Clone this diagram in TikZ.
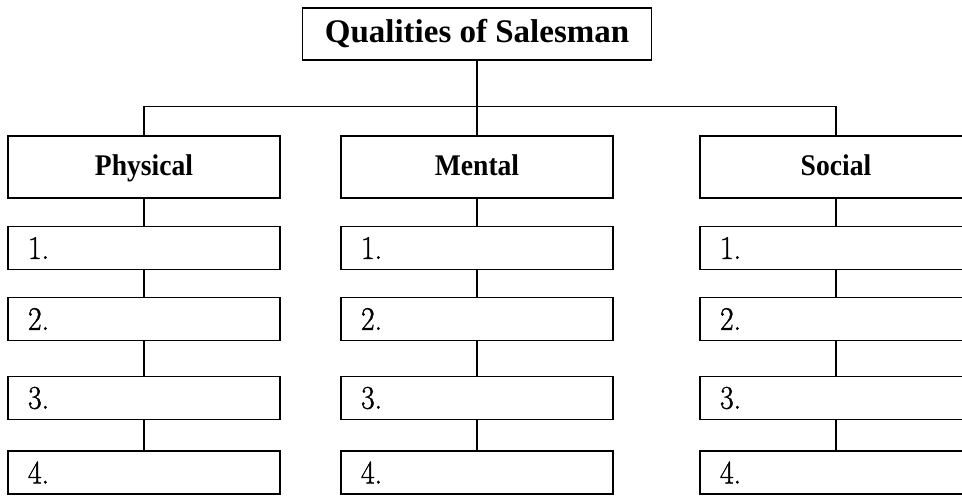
\documentclass[tikz,border=0pt]{standalone}
\usepackage{fontspec}
\newfontfamily\titlefont{Liberation Serif}
\newfontfamily\headfont{Liberation Serif}[FakeStretch=0.92]
\newfontfamily\numfont{Latin Modern Roman}[FakeStretch=0.9, FakeBold=1.2]
\begin{document}
\begin{tikzpicture}[x=1pt,y=-1pt,
  boxline/.style={draw, line width=1.8pt},
  link/.style={line width=1.6pt},
  titlebox/.style={boxline, minimum width=349pt, minimum height=52pt, inner sep=0pt,
    font=\titlefont\bfseries\fontsize{33}{36}\selectfont},
  headbox/.style={boxline, minimum width=272pt, minimum height=62pt, inner sep=0pt,
    text height=21pt, text depth=5pt,
    font=\headfont\bfseries\fontsize{30}{34}\selectfont},
  itembox/.style={boxline, minimum width=272pt, minimum height=43pt, inner sep=0pt,
    text width=232pt, align=left, font=\numfont\fontsize{33}{36}\selectfont}]
  \useasboundingbox (0,0) rectangle (962,496);
  \clip (0,0) rectangle (962,496);

  % root
  \node[titlebox] (top) at (477,34) {Qualities of Salesman};
  \coordinate (bus) at (477,106.5);

  % three columns: heading plus four numbered slots
  \foreach \c/\x/\t in {p/144/Physical, m/477/Mental, s/836/Social} {
    \node[headbox] (\c-h) at (\x,167) {\t};
    \node[itembox] (\c-1) at (\x,248) {1.};
    \node[itembox] (\c-2) at (\x,319) {2.};
    \node[itembox] (\c-3) at (\x,398) {3.};
    \node[itembox] (\c-4) at (\x,472.5) {4.};
    \draw[link] (\c-h.south) -- (\c-1.north);
    \draw[link] (\c-1.south) -- (\c-2.north);
    \draw[link] (\c-2.south) -- (\c-3.north);
    \draw[link] (\c-3.south) -- (\c-4.north);
  }

  % branch lines from the root
  \draw[link] (top.south) -- (m-h.north);
  \draw[link] (p-h.north) -- (p-h.north |- bus) -- (s-h.north |- bus) -- (s-h.north);
\end{tikzpicture}
\end{document}
